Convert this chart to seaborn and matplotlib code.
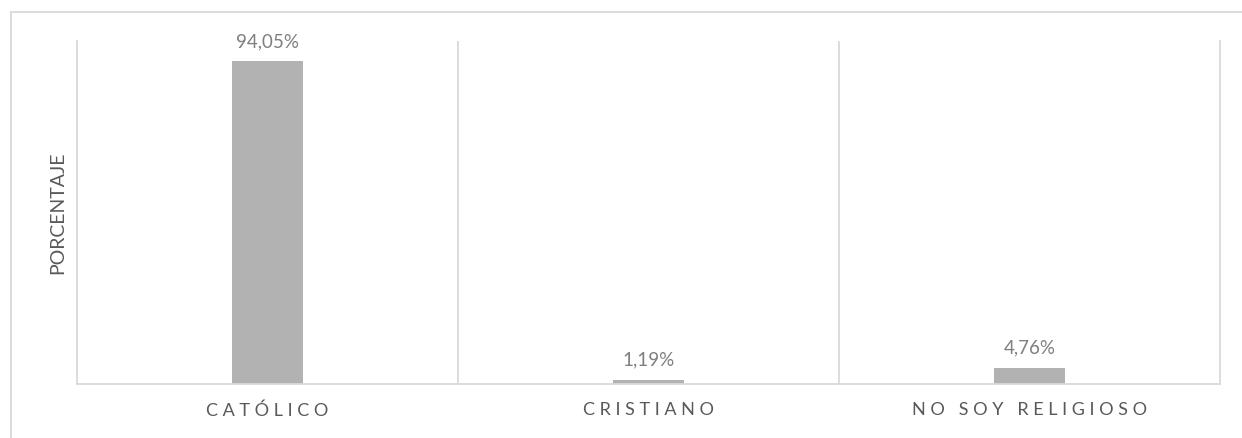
import matplotlib
matplotlib.use("Agg")
import matplotlib.pyplot as plt
import seaborn as sns
import pandas as pd
from matplotlib.lines import Line2D

categories = ["CATÓLICO", "CRISTIANO", "NO SOY RELIGIOSO"]
values = [94.05, 1.19, 4.76]
value_labels = ["94,05%", "1,19%", "4,76%"]
tick_labels = ["C A T Ó L I C O", "C R I S T I A N O", "N O   S O Y   R E L I G I O S O"]
y_label = "PORCENTAJE"

sns.set_style("white")
plt.rcParams['font.family'] = ['Lato', 'DejaVu Sans']

W, H = 1242, 438
fig = plt.figure(figsize=(W / 100, H / 100), dpi=100)
ax = fig.add_axes([77 / W, 1 - 384 / H, (1220 - 77) / W, (384 - 41) / H])

df = pd.DataFrame({"cat": categories, "val": values})
sns.barplot(data=df, x="cat", y="val", color="#b2b2b2", width=0.184,
            saturation=1, ax=ax, edgecolor="none")

ax.set_xlim(-0.5, 2.5)
ax.set_ylim(0, 100)
grid_c = "#d9d9d9"
for x in [0.5, 1.5]:
    ax.axvline(x, color=grid_c, lw=1.3, zorder=0)
for side in ["left", "right", "bottom"]:
    ax.spines[side].set_color(grid_c)
    ax.spines[side].set_linewidth(1.3)
ax.spines["top"].set_visible(False)

ax.set_yticks([])
ax.set_xticks(range(len(categories)))
ax.set_xticklabels(tick_labels, color="#595959", fontsize=13)
ax.tick_params(axis="x", length=0, pad=13)
ax.set_xlabel("")
ax.set_ylabel(y_label, color="#595959", fontsize=14, labelpad=8)

for i, (v, lab) in enumerate(zip(values, value_labels)):
    ax.annotate(lab, (i, v), xytext=(0, 8), textcoords="offset points",
                ha="center", va="bottom", color="#7f7f7f", fontsize=13.5)

# outer chart frame (clipped on right and bottom)
fig.add_artist(Line2D([10.5 / W, 1], [1 - 11.5 / H, 1 - 11.5 / H], color=grid_c, lw=1.3,
                      transform=fig.transFigure))
fig.add_artist(Line2D([10.5 / W, 10.5 / W], [0, 1 - 11.5 / H], color=grid_c, lw=1.3,
                      transform=fig.transFigure))

fig.savefig("out.png", dpi=100, facecolor="white")
